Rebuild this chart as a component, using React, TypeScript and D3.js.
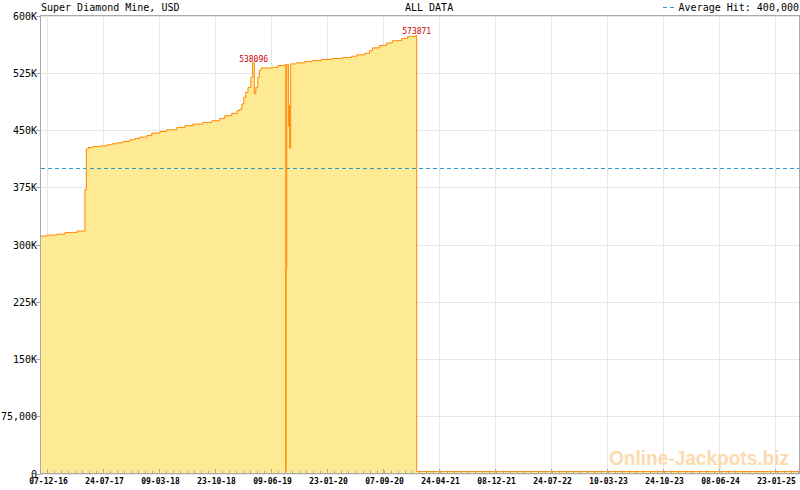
import { useEffect, useRef } from "react"
import * as d3 from "d3"

const title = "Super Diamond Mine, USD"
const rangeLabel = "ALL DATA"
const averageHit = 400000

const dates = [
  "2016-11-14", "2016-12-08", "2017-01-18", "2017-02-20", "2017-04-10", "2017-05-12",
  "2017-05-18", "2017-05-26", "2017-06-14", "2017-07-12", "2017-08-10", "2017-08-30",
  "2017-09-20", "2017-10-14", "2017-11-12", "2017-12-02", "2017-12-22", "2018-01-20",
  "2018-02-09", "2018-03-14", "2018-04-11", "2018-05-22", "2018-06-24", "2018-07-26",
  "2018-09-05", "2018-10-12", "2018-11-13", "2018-12-04", "2019-01-01", "2019-01-22",
  "2019-02-03", "2019-02-11", "2019-02-19", "2019-02-27", "2019-03-08", "2019-03-20",
  "2019-03-27", "2019-04-03", "2019-04-09", "2019-04-17", "2019-04-23", "2019-04-30",
  "2019-06-17", "2019-07-08", "2019-08-05", "2019-08-09", "2019-08-10", "2019-08-13",
  "2019-08-20", "2019-08-21", "2019-08-24", "2019-08-25", "2019-08-29", "2019-09-22",
  "2019-10-25", "2019-11-26", "2020-01-02", "2020-02-12", "2020-03-28", "2020-05-03",
  "2020-05-24", "2020-06-25", "2020-07-16", "2020-07-28", "2020-08-25", "2020-09-23",
  "2020-10-17", "2020-11-23", "2020-12-18", "2021-01-20", "2021-01-24", "2025-05-02",
]

const values = [
  311000, 312300, 313600, 315800, 317600, 372000,
  425000, 427000, 428300, 429200, 430600, 431900,
  433200, 435000, 437200, 438900, 440700, 442800,
  446000, 448100, 450300, 453400, 455600, 457800,
  460000, 462100, 465200, 468700, 471800, 475300,
  477500, 484000, 492800, 499300, 505900, 519000,
  538096, 497500, 506000, 519000, 527800, 531300,
  532200, 534400, 535600, 2500, 268000, 536000,
  510000, 455000, 482000, 426000, 536600, 538000,
  539600, 541000, 542400, 543700, 545000, 546600,
  548400, 550500, 554000, 557600, 560600, 564000,
  567000, 569800, 572400, 573871, 2500, 2500,
]

const peakDates = ["2019-03-27", "2021-01-20"]
const peakValues = [538096, 573871]

const yTicks = [0, 75000, 150000, 225000, 300000, 375000, 450000, 525000, 600000]
const yTickLabels = ["0", "75,000", "150K", "225K", "300K", "375K", "450K", "525K", "600K"]

const xTickLabels = [
  "07-12-16", "24-07-17", "09-03-18", "23-10-18", "09-06-19", "23-01-20", "07-09-20",
  "24-04-21", "08-12-21", "24-07-22", "10-03-23", "24-10-23", "08-06-24", "23-01-25",
]

const MONO = "'DejaVu Sans Mono', monospace"

export default function App() {
  const svgRef = useRef<SVGSVGElement>(null)

  useEffect(() => {
    if (!svgRef.current) return
    const root = d3.select(svgRef.current)
    root.selectAll("*").remove()

    const width = 800
    const height = 490
    const left = 41
    const right = 799
    const top = 15.5
    const bottom = 473.5

    const parseIso = d3.timeParse("%Y-%m-%d")
    const parseTick = d3.timeParse("%d-%m-%y")
    const data = dates.map((d, i) => ({ date: parseIso(d) as Date, value: values[i] }))
    const majors = xTickLabels.map(t => parseTick(t) as Date)

    const x = d3
      .scaleTime()
      .domain([parseIso("2016-11-14") as Date, parseIso("2025-05-02") as Date])
      .range([left, right])

    const y = d3.scaleLinear().domain([0, 600000]).range([bottom, top])

    root.attr("width", width).attr("height", height)
    root.append("rect").attr("width", width).attr("height", height).attr("fill", "white")

    // Grid
    const grid = root.append("g").attr("stroke", "#e6e6e6").attr("stroke-width", 1)
    yTicks.forEach(t => {
      grid
        .append("line")
        .attr("x1", left)
        .attr("x2", right)
        .attr("y1", Math.round(y(t)) + 0.5)
        .attr("y2", Math.round(y(t)) + 0.5)
    })
    majors.forEach(d => {
      const px = Math.round(x(d)) + 0.5
      grid.append("line").attr("x1", px).attr("x2", px).attr("y1", top).attr("y2", bottom)
    })

    // Area
    const area = d3
      .area<typeof data[0]>()
      .x(d => x(d.date))
      .y0(y(0))
      .y1(d => y(d.value))
      .curve(d3.curveStepAfter)

    const line = d3
      .line<typeof data[0]>()
      .x(d => x(d.date))
      .y(d => y(d.value))
      .curve(d3.curveStepAfter)

    root.append("path").datum(data).attr("fill", "#ffea94").attr("d", area)

    // Watermark
    root
      .append("text")
      .attr("x", 609)
      .attr("y", 465)
      .attr("font-family", "'Liberation Sans', Arial, sans-serif")
      .attr("font-weight", "bold")
      .attr("font-size", 20)
      .attr("textLength", 180)
      .attr("lengthAdjust", "spacingAndGlyphs")
      .attr("fill", "#fcdab0")
      .text("Online-Jackpots.biz")

    // Average hit line
    root
      .append("line")
      .attr("x1", left)
      .attr("x2", right)
      .attr("y1", Math.round(y(averageHit)) + 0.5)
      .attr("y2", Math.round(y(averageHit)) + 0.5)
      .attr("stroke", "#2f9bd0")
      .attr("stroke-width", 1)
      .attr("stroke-dasharray", "4,3")

    root
      .append("path")
      .datum(data)
      .attr("fill", "none")
      .attr("stroke", "#ff8800")
      .attr("stroke-width", 1)
      .attr("d", line)

    // Frame
    root
      .append("rect")
      .attr("x", left - 0.5)
      .attr("y", top)
      .attr("width", right - left + 1)
      .attr("height", bottom - top)
      .attr("fill", "none")
      .attr("stroke", "#aaaaaa")

    // Y axis ticks and labels
    yTicks.forEach((t, i) => {
      const py = Math.round(y(t)) + 0.5
      root
        .append("line")
        .attr("x1", left - 5)
        .attr("x2", left)
        .attr("y1", py)
        .attr("y2", py)
        .attr("stroke", "#aaaaaa")
      root
        .append("text")
        .attr("x", left - 4)
        .attr("y", py + 3.5)
        .attr("text-anchor", "end")
        .attr("font-family", MONO)
        .attr("font-size", 10)
        .attr("fill", "black")
        .text(yTickLabels[i])
    })

    // X axis ticks
    const step = (majors[1].getTime() - majors[0].getTime()) / 8
    const minor: Date[] = []
    for (let t = majors[0].getTime() - step; t >= x.domain()[0].getTime(); t -= step) minor.push(new Date(t))
    for (let t = majors[0].getTime(); t <= x.domain()[1].getTime(); t += step) minor.push(new Date(t))
    minor.forEach(d => {
      const px = Math.round(x(d)) + 0.5
      root
        .append("line")
        .attr("x1", px)
        .attr("x2", px)
        .attr("y1", bottom - 3)
        .attr("y2", bottom)
        .attr("stroke", "#aaaaaa")
    })
    majors.forEach((d, i) => {
      const px = Math.round(x(d)) + 0.5
      root
        .append("line")
        .attr("x1", px)
        .attr("x2", px)
        .attr("y1", bottom - 4.5)
        .attr("y2", bottom)
        .attr("stroke", "#aaaaaa")
      root
        .append("text")
        .attr("x", px + 1)
        .attr("y", 484)
        .attr("text-anchor", "middle")
        .attr("font-family", MONO)
        .attr("font-weight", "bold")
        .attr("font-size", 8)
        .attr("fill", "black")
        .text(xTickLabels[i])
    })

    // Peak labels
    peakDates.forEach((d, i) => {
      root
        .append("text")
        .attr("x", x(parseIso(d) as Date) + 1)
        .attr("y", y(peakValues[i]) - 1)
        .attr("text-anchor", "middle")
        .attr("font-family", MONO)
        .attr("font-size", 8)
        .attr("fill", "#cc0000")
        .text(String(peakValues[i]))
    })

    // Header texts
    root
      .append("text")
      .attr("x", left)
      .attr("y", 10.5)
      .attr("font-family", MONO)
      .attr("font-size", 10)
      .attr("fill", "black")
      .text(title)

    root
      .append("text")
      .attr("x", 405)
      .attr("y", 10.5)
      .attr("font-family", MONO)
      .attr("font-size", 10)
      .attr("fill", "black")
      .text(rangeLabel)

    root
      .append("line")
      .attr("x1", 663)
      .attr("x2", 677)
      .attr("y1", 7.5)
      .attr("y2", 7.5)
      .attr("stroke", "#2f9bd0")
      .attr("stroke-dasharray", "4,3")

    root
      .append("text")
      .attr("x", right)
      .attr("y", 10.5)
      .attr("text-anchor", "end")
      .attr("font-family", MONO)
      .attr("font-size", 10)
      .attr("fill", "black")
      .text(`Average Hit: ${d3.format(",")(averageHit)}`)
  }, [])

  return (
    <div style={{ position: "absolute", left: 0, top: 0 }}>
      <svg ref={svgRef} style={{ display: "block" }} />
    </div>
  )
}
